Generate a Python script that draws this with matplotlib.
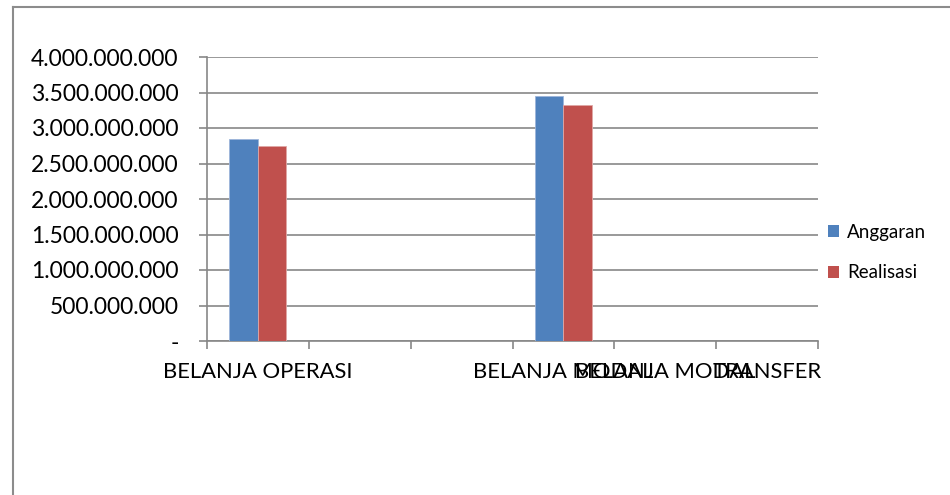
import matplotlib
matplotlib.use("Agg")
import matplotlib.pyplot as plt
from matplotlib.ticker import FuncFormatter, FixedLocator
from matplotlib.patches import Patch
from matplotlib.lines import Line2D
import numpy as np

categories = ["BELANJA OPERASI", "", "", "BELANJA MODAL", "BELANJA MODAL", "TRANSFER"]
anggaran = [2845000000, 0, 0, 3450000000, 0, 0]
realisasi = [2746000000, 0, 0, 3324000000, 0, 0]
series_names = ["Anggaran", "Realisasi"]
yticks = [0, 500000000, 1000000000, 1500000000, 2000000000, 2500000000,
          3000000000, 3500000000, 4000000000]

BLUE = "#4F81BD"
RED = "#C0504D"
GRID = "#878787"
FONT = "Lato"

plt.rcParams["font.family"] = [FONT, "DejaVu Sans"]

fig = plt.figure(figsize=(9.5, 4.95), dpi=100)
W, H = 950, 495
ax = fig.add_axes([207 / W, 1 - 341 / H, (818 - 207) / W, (341 - 57) / H])

x = np.arange(len(categories))
bw = 0.28
ax.bar(x - bw / 2, anggaran, bw, color=BLUE, edgecolor="#9DB5DA", linewidth=0.6, zorder=3)
ax.bar(x + bw / 2, realisasi, bw, color=RED, edgecolor="#E0A8A6", linewidth=0.6, zorder=3)

ax.set_xlim(-0.5, len(categories) - 0.5)
ax.set_ylim(0, 4000000000)
ax.set_yticks(yticks)


def fmt(v, pos):
    if v == 0:
        return "-"
    return f"{int(round(v)):,}".replace(",", ".")


ax.yaxis.set_major_formatter(FuncFormatter(fmt))
ax.yaxis.grid(True, color=GRID, linewidth=1.2, zorder=0)
ax.set_axisbelow(True)

ax.set_xticks(x)
ax.set_xticklabels(categories)
ax.xaxis.set_minor_locator(FixedLocator(np.arange(-0.5, len(categories), 1.0)))
ax.tick_params(axis="x", which="major", length=0, pad=15, labelsize=15.8, labelcolor="#000000")
ax.tick_params(axis="x", which="minor", length=6, width=1.2, color=GRID, direction="out")
ax.tick_params(axis="y", which="major", length=6, width=1.2, color=GRID, direction="out",
               pad=14.5, labelsize=16.5, labelcolor="#000000")

for s in ["top", "right"]:
    ax.spines[s].set_visible(False)
for s in ["left", "bottom"]:
    ax.spines[s].set_color(GRID)
    ax.spines[s].set_linewidth(1.2)

handles = [Patch(facecolor=BLUE, edgecolor="none"), Patch(facecolor=RED, edgecolor="none")]
fig.legend(handles, series_names, loc="upper left", bbox_to_anchor=(824 / W, 1 - 220 / H),
           frameon=False, fontsize=13.5, handlelength=0.62, handleheight=0.62,
           handletextpad=0.4, labelspacing=1.25, borderaxespad=0, borderpad=0.2)

# outer chart-area border (left and top edges visible)
fig.add_artist(Line2D([12.5 / W, 12.5 / W], [0, 1 - 6.5 / H], transform=fig.transFigure,
                      color="#8C8C8C", linewidth=1.5))
fig.add_artist(Line2D([12.5 / W, 1], [1 - 6.5 / H, 1 - 6.5 / H], transform=fig.transFigure,
                      color="#8C8C8C", linewidth=1.5))

fig.savefig("out.png", dpi=100, facecolor="white")
